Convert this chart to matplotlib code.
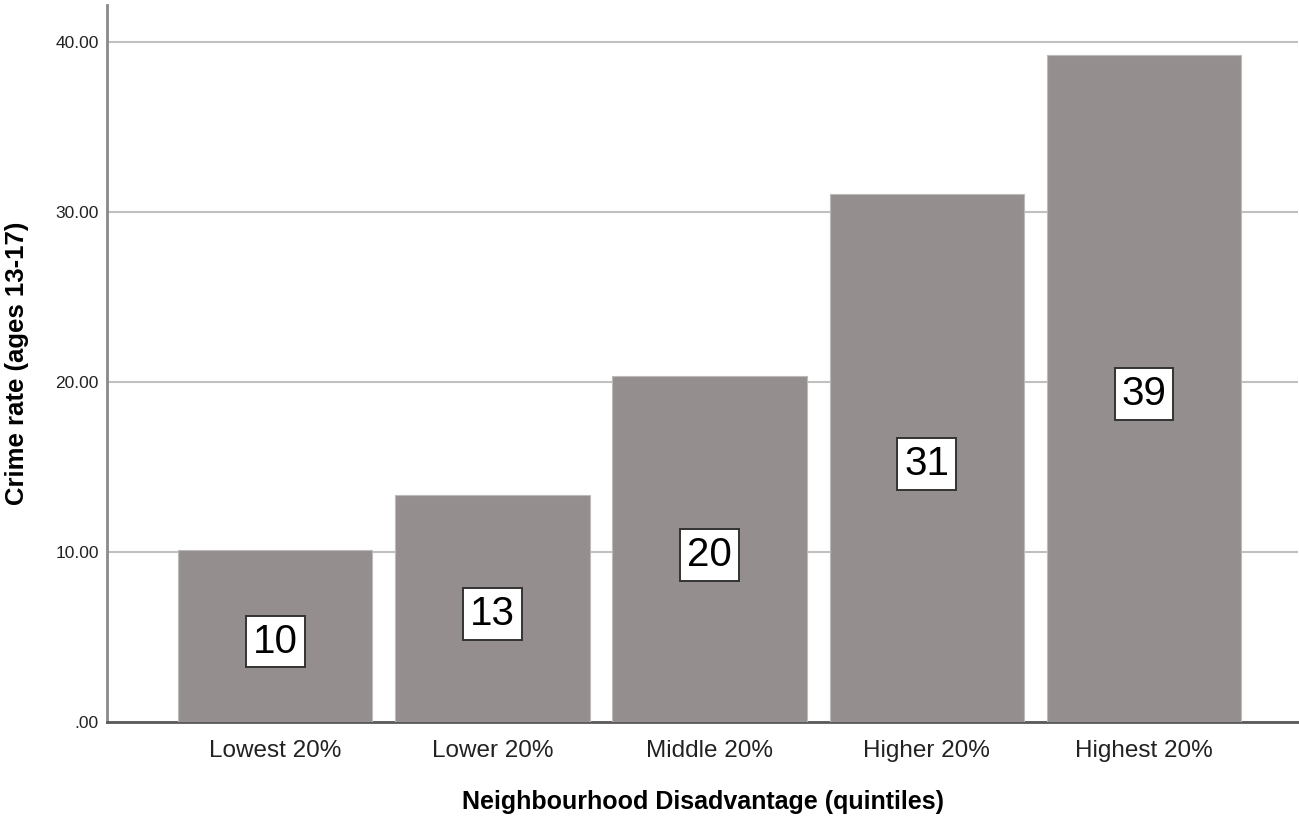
import matplotlib
matplotlib.use("Agg")
import matplotlib.pyplot as plt

# Crime rate by neighbourhood disadvantage quintile
categories = ["Lowest 20%", "Lower 20%", "Middle 20%", "Higher 20%", "Highest 20%"]
crime_rate = [10.12, 13.35, 20.35, 31.06, 39.24]
y_ticks = [0, 10, 20, 30, 40]
y_tick_labels = [".00", "10.00", "20.00", "30.00", "40.00"]

plt.rcParams["font.family"] = ["Liberation Sans", "DejaVu Sans"]

fig = plt.figure(figsize=(12.99, 8.22), dpi=100)
ax = fig.add_axes([107 / 1299, 1 - 722 / 822, (1298 - 107) / 1299, (722 - 5) / 822])

x = list(range(len(categories)))
bars = ax.bar(x, crime_rate, width=0.895, color="#948f8e",
              edgecolor="#bdbaba", linewidth=0.8, zorder=3)

for xi, v in zip(x, crime_rate):
    ax.annotate(f"{v:.0f}", xy=(xi, v / 2), xytext=(0, -4),
                textcoords="offset points", ha="center", va="center",
                fontsize=29, color="black", zorder=5,
                bbox=dict(boxstyle="square,pad=0.17", facecolor="white",
                          edgecolor="#333333", linewidth=1.4))

ax.set_xlim(-0.775, 4.71)
ax.set_ylim(0, 42.2)
ax.set_yticks(y_ticks)
ax.set_yticklabels(y_tick_labels)
ax.set_xticks(x)
ax.set_xticklabels(categories)

ax.yaxis.grid(True, color="#c0c0c0", linewidth=1.5, zorder=0)
ax.set_axisbelow(True)

for side in ("top", "right"):
    ax.spines[side].set_visible(False)
ax.spines["left"].set_color("#8a8a8a")
ax.spines["left"].set_linewidth(2)
ax.spines["bottom"].set_color("#5a5a5a")
ax.spines["bottom"].set_linewidth(2)

ax.tick_params(axis="y", length=0, pad=6, labelsize=12.5, labelcolor="#222222")
ax.tick_params(axis="x", length=0, pad=13, labelsize=17.5, labelcolor="#222222")

ax.set_xlabel("Neighbourhood Disadvantage (quintiles)", fontsize=18,
              fontweight="bold", labelpad=20)
ax.set_ylabel("Crime rate (ages 13-17)", fontsize=18.5, fontweight="bold")
ax.yaxis.set_label_coords(-0.0655, 0.5)

fig.savefig("out.png", dpi=100)
